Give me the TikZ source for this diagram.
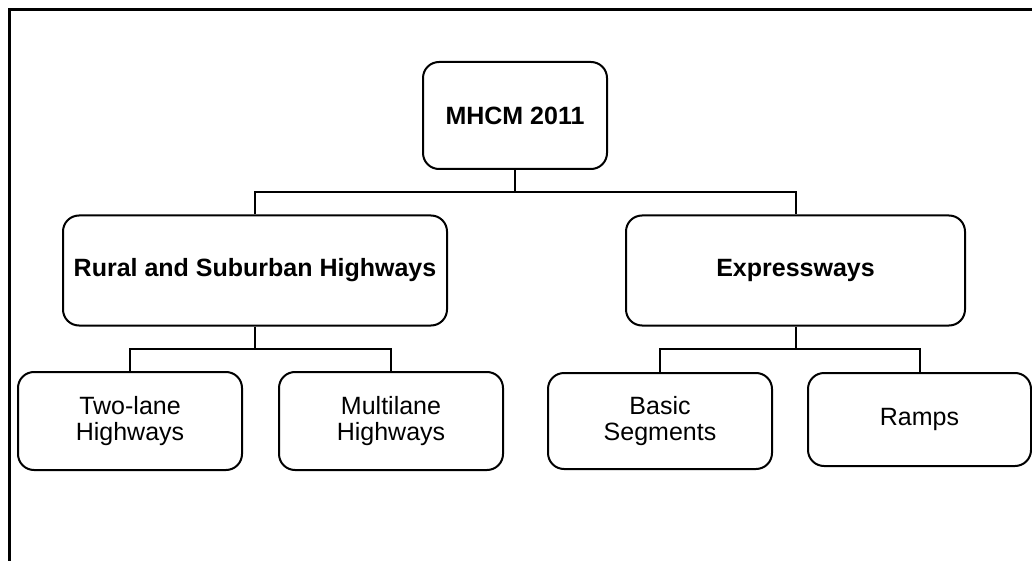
\documentclass[tikz,border=0pt]{standalone}
\usepackage{fontspec}
\setmainfont{Liberation Sans}
\tikzset{
  box/.style={draw, line width=2pt, rounded corners=16pt, align=center,
    inner sep=0pt, font=\fontsize{25}{26}\selectfont},
  headbox/.style={box, font=\fontsize{25}{26}\selectfont\bfseries},
  link/.style={draw, line width=2pt},
  frameline/.style={draw, line width=3pt}
}
\begin{document}
\begin{tikzpicture}[x=1pt, y=-1pt]
\useasboundingbox (0,0) rectangle (1032,561);

% open frame: top and left edges
\draw[frameline] (9,561) -- (9,9.5) -- (1032,9.5);

% boxes
\node[headbox, minimum width=184pt, minimum height=107pt] (top) at (515,115.5) {MHCM 2011};
\node[headbox, minimum width=384pt, minimum height=110pt] (rural) at (255,270.5) {Rural and Suburban Highways};
\node[headbox, minimum width=339pt, minimum height=110pt] (express) at (795.5,270.5) {Expressways};
\node[box, minimum width=224pt, minimum height=98pt] (two) at (130,421) {Two-lane\\Highways};
\node[box, minimum width=224pt, minimum height=98pt] (multi) at (391,421) {Multilane\\Highways};
\node[box, minimum width=224pt, minimum height=96pt] (basic) at (660,421) {Basic\\Segments};
\node[box, minimum width=223pt, minimum height=93pt] (ramps) at (919.5,419.5) {Ramps};

% bus levels
\coordinate (busA) at (0,192);
\coordinate (busB) at (0,349);

% connectors
\draw[link] (top.south) -- (top.south |- busA);
\draw[link] (rural.north) |- (express.north |- busA) -- (express.north);

\draw[link] (rural.south) -- (rural.south |- busB);
\draw[link] (two.north) |- (multi.north |- busB) -- (multi.north);

\draw[link] (express.south) -- (express.south |- busB);
\draw[link] (basic.north) |- (ramps.north |- busB) -- (ramps.north);
\end{tikzpicture}
\end{document}
